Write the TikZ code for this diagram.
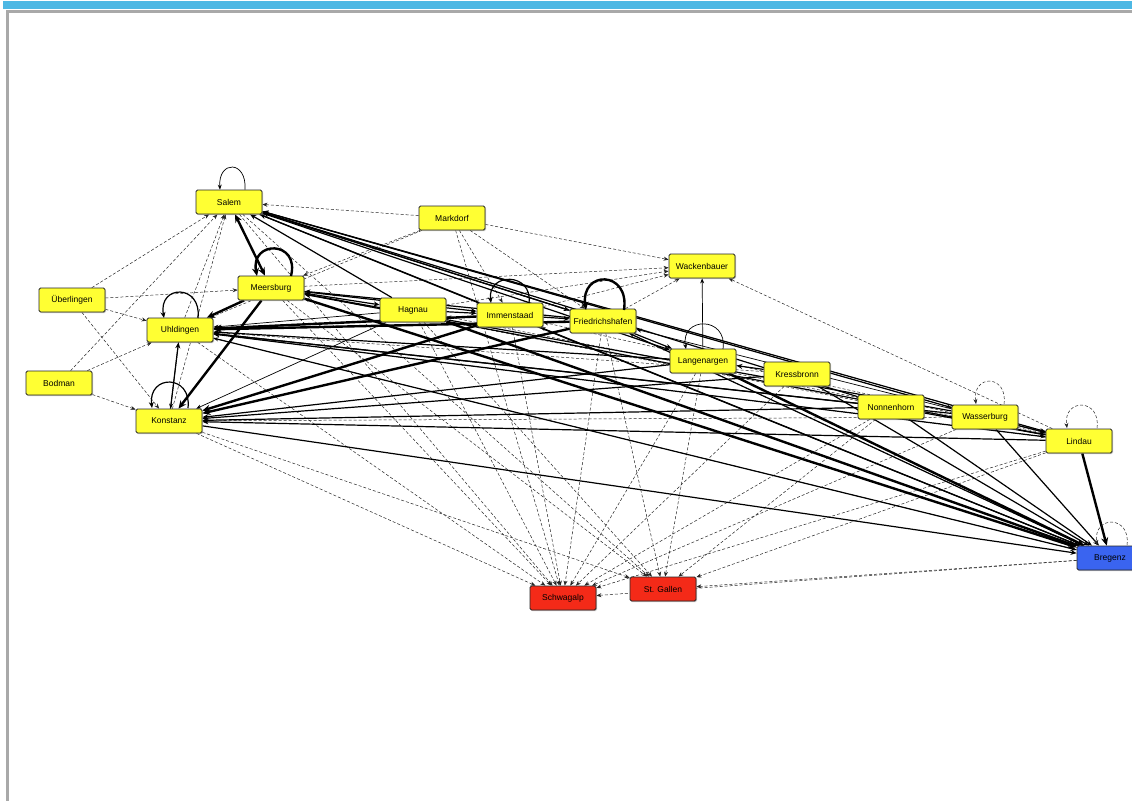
\documentclass[tikz,border=0pt]{standalone}
\usepackage{fontspec}
\setmainfont{Liberation Sans}
\usetikzlibrary{arrows.meta,shadows,backgrounds}
\definecolor{placeyel}{HTML}{FFFF33}
\definecolor{placered}{HTML}{F42A18}
\definecolor{placeblue}{HTML}{3A64F0}
\definecolor{barblue}{HTML}{4DB8E4}
\definecolor{framegray}{HTML}{A9A9A9}

\begin{document}
\begin{tikzpicture}[x=1pt,y=-1pt,
  place/.style={draw=black!85, line width=0.8pt, rounded corners=1.5pt,
    minimum width=66pt, minimum height=24pt, inner sep=0pt,
    font=\fontsize{8.5}{10}\selectfont,
    drop shadow={shadow xshift=1pt,shadow yshift=-1.2pt,opacity=0.45}},
  town/.style={place, fill=placeyel},
  pass/.style={place, fill=placered},
  port/.style={place, fill=placeblue},
  thk/.style={line width=2.4pt, -{Stealth[length=8pt,width=7pt]}},
  med/.style={line width=1.2pt, -{Stealth[length=6pt,width=5pt]}},
  thn/.style={line width=0.7pt, -{Stealth[length=5pt,width=4pt]}},
  dsh/.style={line width=0.5pt, black!85, dash pattern=on 3pt off 2pt, -{Stealth[length=5pt,width=4pt]}},
]
\useasboundingbox (0,0) rectangle (1132,801);

% places
\node[town] (sal) at (229,202) {Salem};
\node[town] (mar) at (452,218) {Markdorf};
\node[town] (wac) at (702,266) {Wackenbauer};
\node[town] (ueb) at (72,300) {Überlingen};
\node[town] (mee) at (271,288) {Meersburg};
\node[town] (uhl) at (180,330) {Uhldingen};
\node[town] (bod) at (59,383) {Bodman};
\node[town] (kon) at (169,421) {Konstanz};
\node[town] (hag) at (413,310) {Hagnau};
\node[town] (imm) at (510,315) {Immenstaad};
\node[town] (fri) at (603,321) {Friedrichshafen};
\node[town] (lan) at (703,361) {Langenargen};
\node[town] (kre) at (797,374) {Kressbronn};
\node[town] (non) at (891,407) {Nonnenhorn};
\node[town] (was) at (985,417) {Wasserburg};
\node[town] (lin) at (1079,441) {Lindau};
\node[port] (bre) at (1110,558) {Bregenz};
\node[pass] (sch) at (563,598) {Schwagalp};
\node[pass] (stg) at (663,589) {St. Gallen};

\begin{scope}[on background layer]
% window frame
\fill[white] (0,0) rectangle (1132,801);
\fill[barblue] (3,1) rectangle (1132,8.5);
\fill[framegray] (6,10) rectangle (1132,12.5);
\fill[framegray] (6,10) rectangle (8.5,801);

% light flows
\foreach \a/\b in {mar/sal, mar/mee, mar/uhl, mar/imm, mar/fri, mar/wac, mar/sch,
  ueb/sal, ueb/mee, ueb/uhl, ueb/kon, bod/sal, bod/uhl, bod/kon,
  kon/sal, uhl/sal, lin/wac, fri/wac, imm/wac, mee/wac, hag/wac,
  kon/sch, uhl/sch, mee/sch, sal/sch, hag/sch, imm/sch, fri/sch, lan/sch,
  kre/sch, non/sch, lin/sch, bre/sch, was/sch,
  kon/stg, sal/stg, mee/stg, hag/stg, fri/stg, lan/stg, lin/stg, bre/stg, non/stg,
  uhl/lin, sal/lin, lin/hag, bre/uhl, bre/mee, bre/imm, was/kon, kre/uhl,
  non/mee, lin/imm, bre/fri, sal/was}
  \draw[dsh] (\a) -- (\b);

% medium flows
\foreach \a/\b in {lin/sal, was/sal, non/sal, fri/sal, imm/sal, hag/sal,
  lin/mee, was/mee, fri/mee, mee/imm, mee/hag, hag/imm, imm/fri, fri/lan, kre/lan,
  lin/uhl, was/uhl, non/uhl, lan/uhl, kon/bre, lin/kon, kon/uhl, lan/kon, kre/kon,
  non/kon, sal/bre, uhl/bre, imm/bre, fri/bre, non/bre, was/bre, kre/bre,
  was/lin, non/lin, sal/fri, sal/lan}
  \draw[med] (\a) -- (\b);

% thin solid flows
\foreach \a/\b in {lan/wac, hag/kon, hag/uhl, uhl/kon, lin/fri}
  \draw[thn] (\a) -- (\b);

% heavy flows
\foreach \a/\b in {mee/kon, mee/uhl, fri/kon, imm/uhl, fri/uhl, imm/kon,
  mee/bre, hag/bre, lan/bre, lin/bre}
  \draw[thk] (\a) -- (\b);
\draw[thk, {Stealth[length=8pt,width=7pt]}-{Stealth[length=8pt,width=7pt]}] (sal) -- (mee);
\end{scope}

% flows staying in place
\draw[thn] ([xshift=16pt]sal.north) .. controls (247,160) and (218,160) .. ([xshift=-9pt]sal.north);
\draw[thk] (291,276) .. controls (300,240) and (250,240) .. (257,276);
\draw[med] (198,318) .. controls (202,284) and (158,284) .. (164,318);
\draw[med] (188,408) .. controls (192,374) and (148,374) .. (152,408);
\draw[med] (529,303) .. controls (533,272) and (487,272) .. (491,303);
\draw[thk] (624,310) .. controls (630,270) and (580,270) .. (586,310);
\draw[thn] (723,349) .. controls (728,316) and (680,316) .. (686,349);
\draw[dsh] (1004,404) .. controls (1008,374) and (972,374) .. (976,404);
\draw[dsh] (1097,428) .. controls (1101,398) and (1063,398) .. (1067,428);
\draw[dsh] (1127,545) .. controls (1131,515) and (1093,515) .. (1097,545);
\end{tikzpicture}
\end{document}
